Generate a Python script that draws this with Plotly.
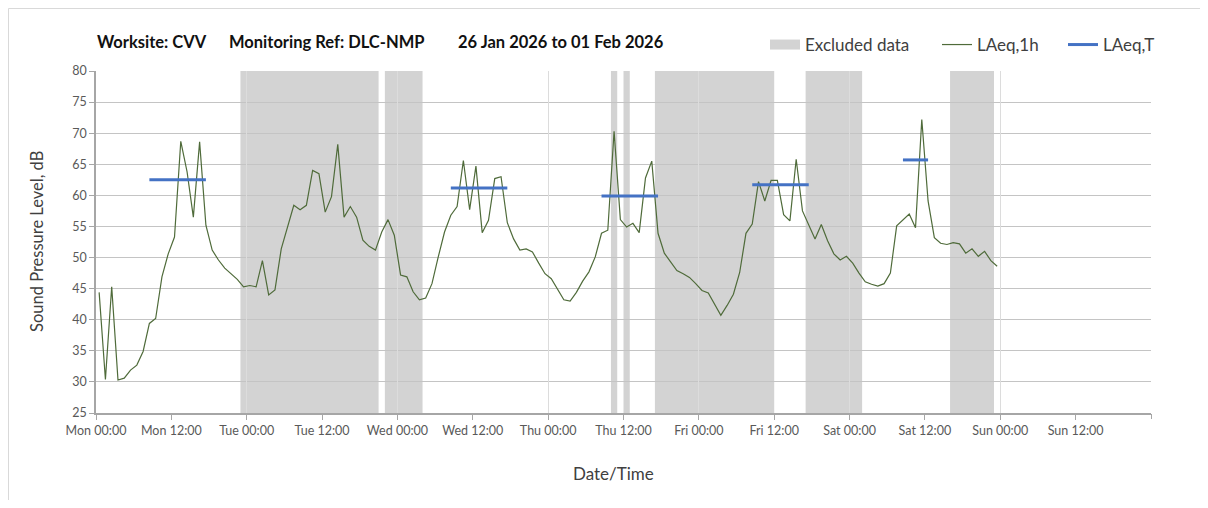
import pandas as pd
import plotly.graph_objects as go

# ---------------- data ----------------
laeq_1h = [
    44.4, 30.4, 45.3, 30.3, 30.6, 31.9, 32.7, 34.9, 39.4, 40.2, 46.9, 50.6,
    53.3, 68.7, 63.8, 56.5, 68.6, 55.2, 51.2, 49.6, 48.3, 47.4, 46.5, 45.3,
    45.5, 45.3, 49.5, 44.0, 44.8, 51.4, 54.9, 58.4, 57.7, 58.4, 64.0, 63.5,
    57.3, 59.8, 68.2, 56.5, 58.2, 56.5, 52.8, 51.8, 51.2, 54.1, 56.1, 53.6,
    47.2, 46.9, 44.5, 43.2, 43.5, 45.8, 50.1, 54.1, 56.8, 58.2, 65.6, 57.7,
    64.7, 54.0, 56.0, 62.7, 63.0, 55.6, 53.0, 51.2, 51.4, 50.9, 49.1, 47.4,
    46.6, 45.0, 43.2, 43.0, 44.4, 46.2, 47.7, 50.1, 53.9, 54.4, 70.3, 56.1,
    54.9, 55.5, 54.0, 62.8, 65.5, 53.9, 50.7, 49.3, 47.9, 47.4, 46.8, 45.8,
    44.7, 44.3, 42.5, 40.7, 42.3, 44.1, 47.6, 53.9, 55.4, 62.2, 59.1, 62.4,
    62.4, 56.9, 55.9, 65.8, 57.5, 55.3, 53.0, 55.3, 52.7, 50.6, 49.6, 50.2,
    49.1, 47.5, 46.1, 45.7, 45.4, 45.8, 47.5, 55.1, 56.0, 57.0, 54.8, 72.2,
    59.1, 53.2, 52.3, 52.1, 52.4, 52.2, 50.7, 51.4, 50.2, 51.0, 49.5, 48.6,
]
times_1h = pd.date_range("2026-01-26 00:30", periods=len(laeq_1h), freq="h")

laeqT_start = ["2026-01-26 08:30", "2026-01-28 08:30", "2026-01-29 08:30",
               "2026-01-30 08:30", "2026-01-31 08:30"]
laeqT_end = ["2026-01-26 17:30", "2026-01-28 17:30", "2026-01-29 17:30",
             "2026-01-30 17:30", "2026-01-31 12:30"]
laeqT_values = [62.5, 61.2, 59.9, 61.7, 65.7]

excluded_start = ["2026-01-26 23:00", "2026-01-27 22:00", "2026-01-29 10:00",
                  "2026-01-29 12:00", "2026-01-29 17:00", "2026-01-30 17:00",
                  "2026-01-31 16:00"]
excluded_end = ["2026-01-27 21:00", "2026-01-28 04:00", "2026-01-29 11:00",
                "2026-01-29 13:00", "2026-01-30 12:00", "2026-01-31 02:00",
                "2026-01-31 23:00"]

x_start, x_end = "2026-01-26 00:00", "2026-02-02 00:00"
tick_vals = pd.date_range("2026-01-26 00:00", "2026-02-01 12:00", freq="12h")
day_vals = pd.date_range("2026-01-26 00:00", "2026-02-02 00:00", freq="24h")

title_parts = ["Worksite: CVV", "Monitoring Ref: DLC-NMP", "26 Jan 2026 to 01 Feb 2026"]
legend_names = ["Excluded data", "LAeq,1h", "LAeq,T"]

# ---------------- style / layout helpers ----------------
FONT = "Lato"
GREEN = "#4f6b3a"
BLUE = "#4472c4"
BAND = "#d3d3d3"

W, H = 1192, 492          # page has an 8px body margin
ML, MR, MT, MB = 88, 49, 63, 87
PW, PH = W - ML - MR, H - MT - MB


def px(page_x):
    return (page_x - 8 - ML) / PW


def py(page_y):
    return (H - MB - (page_y - 8)) / PH


fig = go.Figure()

# legend proxy for the excluded-data bands
fig.add_trace(go.Scatter(
    x=[None], y=[None], mode="lines", name=legend_names[0],
    line=dict(color=BAND, width=12), legend="legend", hoverinfo="skip",
))

fig.add_trace(go.Scatter(
    x=times_1h, y=laeq_1h, mode="lines", name=legend_names[1],
    line=dict(color=GREEN, width=1.2), legend="legend2",
))

tx, ty = [], []
for s, e, v in zip(laeqT_start, laeqT_end, laeqT_values):
    tx += [pd.Timestamp(s), pd.Timestamp(e), None]
    ty += [v, v, None]
fig.add_trace(go.Scatter(
    x=tx, y=ty, mode="lines", name=legend_names[2], xaxis="x2",
    line=dict(color=BLUE, width=3), legend="legend3",
))

for s, e in zip(excluded_start, excluded_end):
    fig.add_shape(
        type="rect", xref="x", yref="y domain", x0=s, x1=e, y0=0, y1=1,
        fillcolor=BAND, line=dict(width=0), layer="below",
    )

# outer chart border (top and left edges visible in the frame)
fig.add_shape(type="line", xref="paper", yref="paper",
              x0=px(8.5), x1=px(1300), y0=py(8.5), y1=py(8.5),
              line=dict(color="#d9d9d9", width=1), layer="below")
fig.add_shape(type="line", xref="paper", yref="paper",
              x0=px(8.5), x1=px(8.5), y0=py(8.5), y1=py(700),
              line=dict(color="#d9d9d9", width=1), layer="below")

title_x_page = [95, 227, 456]
for t, xp in zip(title_parts, title_x_page):
    fig.add_annotation(text=f"<b>{t}</b>", xref="paper", yref="paper",
                       x=px(xp), y=py(42), xanchor="left", yanchor="middle",
                       showarrow=False,
                       font=dict(family=FONT, size=16.5, color="#111111"))

fig.add_annotation(text="Sound Pressure Level, dB", xref="paper", yref="paper",
                   x=px(37), y=0.5, textangle=-90, showarrow=False,
                   xanchor="center", yanchor="middle",
                   font=dict(family=FONT, size=16.5, color="#404040"))
fig.add_annotation(text="Date/Time", xref="paper", yref="paper",
                   x=px(613), y=py(473), showarrow=False,
                   xanchor="center", yanchor="middle",
                   font=dict(family=FONT, size=17, color="#404040"))

legend_style = dict(orientation="h", xanchor="left", yanchor="middle",
                    itemwidth=30, bgcolor="rgba(0,0,0,0)",
                    font=dict(family=FONT, size=17, color="#404040"))
legend_text_x = [803, 975, 1101]

fig.update_layout(
    width=W, height=H,
    margin=dict(l=ML, r=MR, t=MT, b=MB),
    paper_bgcolor="white", plot_bgcolor="rgba(0,0,0,0)",
    font=dict(family=FONT, color="#595959"),
    showlegend=True,
    legend=dict(x=px(legend_text_x[0] - 38), y=py(45), **legend_style),
    legend2=dict(x=px(legend_text_x[1] - 38), y=py(45), **legend_style),
    legend3=dict(x=px(legend_text_x[2] - 38), y=py(45), **legend_style),
    xaxis=dict(
        type="date", range=[x_start, x_end],
        tickmode="array", tickvals=tick_vals, tickformat="%a %H:%M",
        showgrid=False, zeroline=False,
        showline=True, linecolor="#a6a6a6", linewidth=1.5,
        ticks="outside", ticklen=5, tickcolor="#a6a6a6",
        tickfont=dict(family=FONT, size=12.5, color="#595959"),
    ),
    xaxis2=dict(
        type="date", range=[x_start, x_end], overlaying="x", anchor="y",
        side="bottom", tickmode="array", tickvals=day_vals,
        showticklabels=False, ticks="outside", ticklen=5, tickcolor="#a6a6a6",
        showgrid=True, gridcolor="#dcdcdc", gridwidth=1, zeroline=False,
        showline=False,
    ),
    yaxis=dict(
        range=[25, 80], dtick=5, tick0=25,
        showgrid=True, gridcolor="#c4c4c4", gridwidth=1.2, zeroline=False,
        showline=True, linecolor="#a6a6a6", linewidth=1.5,
        ticks="outside", ticklen=5, tickcolor="#a6a6a6",
        tickfont=dict(family=FONT, size=12.5, color="#595959"),
    ),
)

fig.write_html("out.html")
